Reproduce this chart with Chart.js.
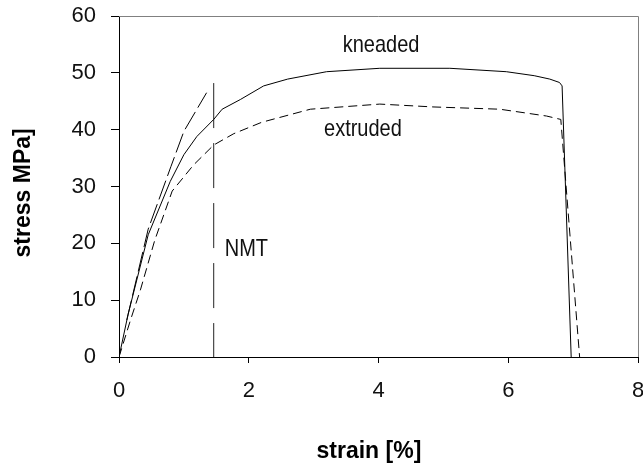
<!DOCTYPE html>
<html>
<head>
<meta charset="utf-8">
<script src="https://cdn.jsdelivr.net/npm/chart.js@4.4.1/dist/chart.umd.min.js"></script>
<style>
  html, body { margin: 0; padding: 0; background: #fff; }
  #wrap { width: 643px; height: 466px; }
</style>
</head>
<body>
<div id="wrap"><canvas id="c"></canvas></div>
<script>
// kneaded (solid)
const kneadedStrain = [0, 0.14, 0.45, 0.79, 1.0, 1.2, 1.46, 1.59, 1.87, 2.23, 2.6, 3.2, 4.02, 5.1, 5.97, 6.4, 6.64, 6.79, 6.83, 6.97];
const kneadedStress = [0, 7.5, 21.5, 30.9, 35.6, 38.8, 41.8, 43.6, 45.3, 47.7, 48.9, 50.2, 50.8, 50.8, 50.2, 49.5, 48.9, 48.3, 47.7, 0];

// extruded (dashed)
const extrudedStrain = [0, 0.18, 0.33, 0.55, 0.82, 1.15, 1.46, 1.77, 2.2, 2.95, 4.02, 4.84, 5.87, 6.59, 6.81, 7.1];
const extrudedStress = [0, 6.6, 11.8, 20.5, 29.2, 33.8, 37.3, 39.3, 41.3, 43.6, 44.5, 44.0, 43.6, 42.4, 41.8, 0];

// initial slope line (long dash)
const slopeStrain = [0.12, 0.45, 0.8, 1.0, 1.35];
const slopeStress = [6.5, 22.5, 33.5, 39.7, 46.5];

// NMT marker
const nmtStrain = [1.46, 1.46];
const nmtStress = [48.2, 0];

const yTicks = [0, 10, 20, 30, 40, 50, 60];
const xTicks = [0, 2, 4, 6, 8];

const noteTexts = ["kneaded", "extruded", "NMT"];
const noteStrain = [4.04, 3.76, 1.63];
const noteStress = [54.9, 40.1, 19.0];
const noteAlign = ["center", "center", "left"];

const pts = (xs, ys) => xs.map((x, i) => ({x: x, y: ys[i]}));

const sans = "'Liberation Sans', Arial, sans-serif";

const frame = {
    id: 'frame',
    afterDraw(chart) {
        const {ctx, chartArea: a} = chart;
        ctx.save();
        ctx.strokeStyle = '#808080';
        ctx.lineWidth = 1;
        ctx.beginPath();
        ctx.moveTo(a.left, a.top + 0.5);
        ctx.lineTo(a.right + 0.5, a.top + 0.5);
        ctx.lineTo(a.right + 0.5, a.bottom);
        ctx.stroke();
        ctx.restore();

        // curve labels, a bit taller than wide like the original
        noteTexts.forEach((t, i) => {
            const px = chart.scales.x.getPixelForValue(noteStrain[i]);
            const py = chart.scales.y.getPixelForValue(noteStress[i]);
            ctx.save();
            ctx.translate(px, py);
            ctx.scale(1, 1.2);
            ctx.fillStyle = '#111';
            ctx.font = "20px " + sans;
            ctx.textBaseline = 'middle';
            ctx.textAlign = noteAlign[i];
            ctx.fillText(t, 0, 0);
            ctx.restore();
        });
    }
};

new Chart(document.getElementById('c'), {
    type: 'line',
    data: {
        datasets: [
            { label: 'kneaded', data: pts(kneadedStrain, kneadedStress),
              borderColor: '#000', borderWidth: 1, pointRadius: 0 },
            { label: 'extruded', data: pts(extrudedStrain, extrudedStress),
              borderColor: '#000', borderWidth: 1, borderDash: [9, 5], pointRadius: 0 },
            { label: 'slope', data: pts(slopeStrain, slopeStress),
              borderColor: '#000', borderWidth: 1, borderDash: [20, 5], pointRadius: 0 },
            { label: 'NMT', data: pts(nmtStrain, nmtStress),
              borderColor: '#222', borderWidth: 1, borderDash: [45, 15], pointRadius: 0 }
        ]
    },
    options: {
        responsive: true,
        maintainAspectRatio: false,
        animation: false,
        layout: { padding: { top: 16, right: 5, left: 0, bottom: 0 } },
        plugins: {
            legend: { display: false },
            tooltip: { enabled: false }
        },
        scales: {
            x: {
                type: 'linear',
                min: 0, max: 8,
                afterBuildTicks: s => { s.ticks = xTicks.map(v => ({value: v})); },
                afterFit: s => { s.height = 109; s.paddingLeft = 0; s.paddingRight = 0; },
                grid: { drawOnChartArea: false, drawTicks: true, tickLength: 6, color: '#000' },
                border: { display: true, color: '#000', width: 1 },
                ticks: { color: '#111', padding: 15, maxRotation: 0, font: { family: sans, size: 22 } },
                title: { display: true, text: 'strain [%]   ', color: '#000', padding: { top: 0, bottom: 1 },
                         font: { family: sans, size: 23, weight: 'bold' } }
            },
            y: {
                min: 0, max: 60,
                afterBuildTicks: s => { s.ticks = yTicks.map(v => ({value: v})); },
                afterFit: s => { s.width = 119; s.paddingTop = 0; s.paddingBottom = 0; },
                grid: { drawOnChartArea: false, drawTicks: true, tickLength: 8, color: '#000' },
                border: { display: true, color: '#000', width: 1 },
                ticks: { color: '#111', padding: 15, font: { family: sans, size: 22 } },
                title: { display: true, text: 'stress MPa]  ', color: '#000', padding: { top: 10, bottom: 0 },
                         font: { family: sans, size: 23, weight: 'bold' } }
            }
        }
    },
    plugins: [frame]
});
</script>
</body>
</html>
